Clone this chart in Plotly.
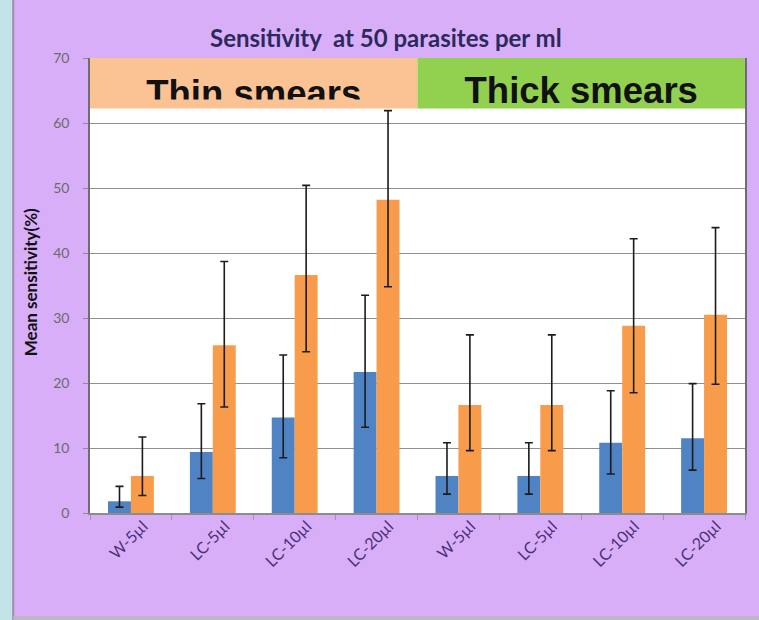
import plotly.graph_objects as go

# ---- data ----
categories = ["W-5µl", "LC-5µl", "LC-10µl", "LC-20µl", "W-5µl", "LC-5µl", "LC-10µl", "LC-20µl"]
blue_vals = [1.8, 9.4, 14.7, 21.7, 5.7, 5.7, 10.8, 11.5]
blue_hi = [4.1, 16.8, 24.3, 33.5, 10.8, 10.8, 18.8, 19.9]
blue_lo = [0.9, 5.3, 8.5, 13.2, 2.9, 2.9, 6.0, 6.6]
orange_vals = [5.7, 25.8, 36.6, 48.2, 16.6, 16.6, 28.8, 30.5]
orange_hi = [11.7, 38.7, 50.4, 61.9, 27.4, 27.4, 42.2, 43.9]
orange_lo = [2.7, 16.3, 24.8, 34.8, 9.6, 9.6, 18.5, 19.8]
group_labels = ["Thin smears", "Thick smears"]
group_centers = [1.5, 5.5]
group_spans = [(-0.5, 3.5), (3.5, 7.5)]
y_ticks = [0, 10, 20, 30, 40, 50, 60, 70]

# ---- layout constants ----
W, H = 759, 620
ML, MR, MT, MB = 90, 12, 58, 107
PW = W - ML - MR
PH = H - MT - MB
YMAX = 70
BANNER_BOTTOM = 62.25
CLIP_VAL = 63.61
THIN_Y = 64.05
THICK_Y = 64.44
LABEL_SHIFT = 0.15  # rotated labels sit a little right of the category centre

def px_to_paper_x(px):
    return (px - ML) / PW

def px_to_paper_y(py):
    return (H - MB - py) / PH

xs = list(range(len(categories)))

fig = go.Figure()
fig.add_trace(go.Bar(
    x=xs, y=blue_vals, marker_color="#4f83c3", marker_line_width=0,
    error_y=dict(type="data", symmetric=False,
                 array=[h - v for h, v in zip(blue_hi, blue_vals)],
                 arrayminus=[v - l for l, v in zip(blue_lo, blue_vals)],
                 color="#1c1c1c", thickness=1.6, width=4),
    showlegend=False,
))
fig.add_trace(go.Bar(
    x=xs, y=orange_vals, marker_color="#f89c4c", marker_line_width=0,
    error_y=dict(type="data", symmetric=False,
                 array=[h - v for h, v in zip(orange_hi, orange_vals)],
                 arrayminus=[v - l for l, v in zip(orange_lo, orange_vals)],
                 color="#1c1c1c", thickness=1.6, width=4),
    showlegend=False,
))

# clipped "Thin smears" text (in separate y2 subplot whose bottom clips it)
fig.add_trace(go.Scatter(
    x=[group_centers[0]], y=[THIN_Y], mode="text", text=[group_labels[0]],
    textposition="middle center", yaxis="y2", cliponaxis=True,
    textfont=dict(family="Liberation Sans", size=36.5, color="#111111", weight="bold"),
    showlegend=False, hoverinfo="skip",
))
fig.add_trace(go.Scatter(
    x=[group_centers[1]], y=[THICK_Y], mode="text", text=[group_labels[1]],
    textposition="middle center", cliponaxis=False,
    textfont=dict(family="Liberation Sans", size=36.5, color="#111111", weight="bold"),
    showlegend=False, hoverinfo="skip",
))
# empty trace to carry the label axis
fig.add_trace(go.Scatter(x=[], y=[], xaxis="x2", yaxis="y", showlegend=False, hoverinfo="skip"))

banner_colors = ["#fbc394", "#92d050"]
shapes = []
# white plot area
shapes.append(dict(type="rect", xref="paper", yref="paper", x0=0, x1=1, y0=0, y1=1,
                   fillcolor="#ffffff", line=dict(width=0), layer="below"))
for (x0, x1), col in zip(group_spans, banner_colors):
    shapes.append(dict(type="rect", xref="x", yref="y", x0=x0, x1=x1,
                       y0=BANNER_BOTTOM, y1=YMAX, fillcolor=col,
                       line=dict(width=0), layer="between"))
# left cyan strip and separator line, bottom gray strip
shapes.append(dict(type="rect", xref="paper", yref="paper",
                   x0=px_to_paper_x(-5), x1=px_to_paper_x(12),
                   y0=px_to_paper_y(H + 5), y1=px_to_paper_y(-5),
                   fillcolor="#c2e4e9", line=dict(width=0), layer="below"))
shapes.append(dict(type="line", xref="paper", yref="paper",
                   x0=px_to_paper_x(13), x1=px_to_paper_x(13),
                   y0=px_to_paper_y(H + 5), y1=px_to_paper_y(-5),
                   line=dict(color="#9a90a8", width=2), layer="below"))
shapes.append(dict(type="rect", xref="paper", yref="paper",
                   x0=px_to_paper_x(13), x1=px_to_paper_x(W + 5),
                   y0=px_to_paper_y(H + 5), y1=px_to_paper_y(616),
                   fillcolor="#bdb6c4", line=dict(width=0), layer="below"))

fig.update_layout(
    width=W, height=H,
    margin=dict(l=ML, r=MR, t=MT, b=MB, pad=0),
    paper_bgcolor="#d9aef8",
    plot_bgcolor="rgba(0,0,0,0)",
    barmode="group", bargap=0.44, bargroupgap=0,
    shapes=shapes,
    font=dict(family="Lato", color="#595959"),
    xaxis=dict(
        range=[-0.5, 7.5], tickmode="array", tickvals=xs, ticktext=categories,
        showticklabels=False, ticks="", showgrid=False, zeroline=False,
        showline=True, linecolor="#8c8c8c", linewidth=1.5,
        minor=dict(tickmode="array", tickvals=[v - 0.5 for v in xs] + [7.5],
                   ticks="outside", ticklen=5, tickcolor="#9a9a9a", showgrid=False),
        anchor="y", fixedrange=True,
    ),
    xaxis2=dict(
        range=[-0.5 - LABEL_SHIFT, 7.5 - LABEL_SHIFT], overlaying="x", side="bottom",
        anchor="y", tickmode="array", tickvals=xs, ticktext=categories,
        tickangle=-45, ticks="", showgrid=False, zeroline=False, showline=False,
        ticklabelstandoff=0,
        tickfont=dict(family="Lato", size=16, color="#4b2f7c"),
        fixedrange=True,
    ),
    yaxis=dict(
        range=[0, YMAX], tickmode="array", tickvals=y_ticks,
        showgrid=True, gridcolor="#8f8f8f", gridwidth=1, zeroline=False,
        showline=True, linecolor="#6e6e6e", linewidth=1.5, mirror=True,
        ticks="outside", ticklen=5, tickcolor="#8c8c8c", ticklabelstandoff=11,
        tickfont=dict(family="Lato", size=14, color="#6a6a6a"),
        domain=[0, 1], fixedrange=True,
    ),
    yaxis2=dict(
        range=[CLIP_VAL, YMAX], domain=[CLIP_VAL / YMAX, 1], anchor="x",
        visible=False, showgrid=False, fixedrange=True,
    ),
    annotations=[
        dict(text="<b>Sensitivity  at 50 parasites per ml</b>", xref="paper", yref="paper",
             x=px_to_paper_x(387), y=px_to_paper_y(38), xanchor="center", yanchor="middle",
             showarrow=False, font=dict(family="Lato", size=24, color="#2c2a5c")),
        dict(text="<b>Mean sensitivity(%)</b>", xref="paper", yref="paper",
             x=px_to_paper_x(30), y=px_to_paper_y(282), xanchor="center", yanchor="middle",
             textangle=-90, showarrow=False, font=dict(family="Lato", size=17, color="#111111")),
    ],
)

fig.write_html("out.html", config={"displayModeBar": False},
               post_script="document.body.style.margin='0';document.body.style.overflow='hidden';")
